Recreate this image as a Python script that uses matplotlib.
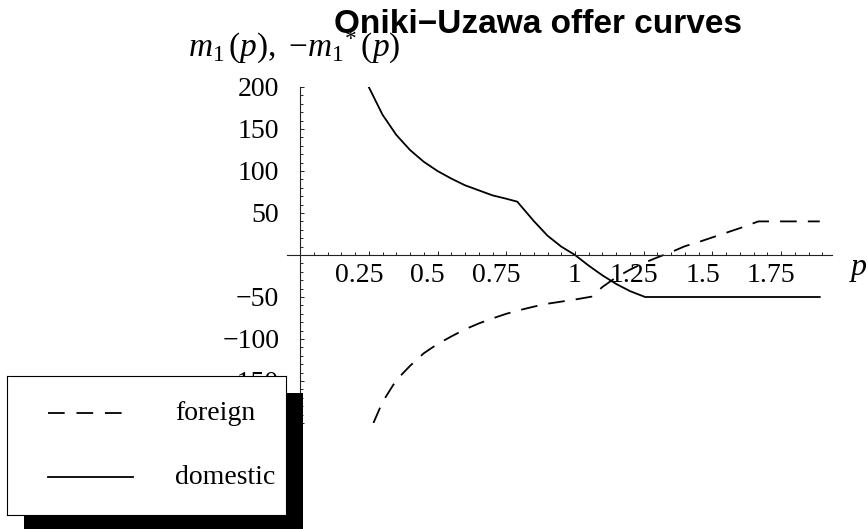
import matplotlib
matplotlib.use('Agg')
import matplotlib.pyplot as plt
import matplotlib.transforms as mtransforms
from matplotlib.patches import Rectangle

# values
p_domestic = [0.25, 0.30, 0.35, 0.40, 0.45, 0.50, 0.55, 0.60, 0.65, 0.70, 0.75, 0.79,
              0.85, 0.90, 0.95, 1.00, 1.05, 1.10, 1.15, 1.20, 1.255, 1.89]
m_domestic = [200, 167, 143, 125, 111, 100, 91, 83, 77, 71, 67, 63.5,
              40.5, 23, 10, 0, -12.7, -24.3, -34.5, -43, -50, -50]

p_foreign = [0.267, 0.30, 0.35, 0.40, 0.45, 0.50, 0.55, 0.60, 0.65, 0.70, 0.75, 0.80,
             0.85, 0.90, 0.95, 1.00, 1.06, 1.10, 1.15, 1.20, 1.25, 1.30, 1.35, 1.40,
             1.45, 1.50, 1.55, 1.60, 1.667, 1.89]
m_foreign = [-200, -175, -149, -132, -117, -106, -97, -88.5, -81.5, -75.5, -70, -65.5,
             -61.5, -58, -55.5, -53, -49.6, -38, -26.5, -17.5, -9.5, -2.8, 3.5, 10.5,
             15.5, 21, 26.5, 32, 40, 40]

x_ticks = [0.25, 0.5, 0.75, 1, 1.25, 1.5, 1.75]
x_labels = ['0.25', '0.5', '0.75', '1', '1.25', '1.5', '1.75']
y_ticks = [-200, -150, -100, -50, 50, 100, 150, 200]
y_labels = ['\u2212200', '\u2212150', '\u2212100', '\u221250', '50', '100', '150', '200']

plt.rcParams['lines.scale_dashes'] = False
plt.rcParams['mathtext.fontset'] = 'custom'
plt.rcParams['mathtext.rm'] = 'Liberation Serif'
plt.rcParams['mathtext.it'] = 'Liberation Serif:italic'

W, H = 868, 529
fig = plt.figure(figsize=(W / 100, H / 100), dpi=100)

# main axes, placed so p=0 -> x=300px, p=1 -> 575px, y=0 -> 255px
ax = fig.add_axes([287.1 / W, (H - 423) / H, 545 / W, 336 / H])
ax.patch.set_visible(False)
ax.set_xlim(-0.047, 1.935)
ax.set_ylim(-200, 200)

dash = (0, (12, 8))
ax.plot(p_foreign, m_foreign, color='black', lw=1.3, ls=dash)
ax.plot(p_domestic, m_domestic, color='black', lw=1.3)

for s in ['top', 'right']:
    ax.spines[s].set_visible(False)
ax.spines['left'].set_position(('data', 0))
ax.spines['bottom'].set_position(('data', 0))
for s in ['left', 'bottom']:
    ax.spines[s].set_linewidth(0.8)
    ax.spines[s].set_color('#222222')

ax.set_xticks(x_ticks, x_labels)
ax.set_xticks([i * 0.05 for i in range(1, 39) if i % 5 != 0], minor=True)
ax.set_yticks(y_ticks, y_labels)
ax.set_yticks([v for v in range(-190, 200, 10) if v % 50 != 0], minor=True)

ax.tick_params(which='both', direction='in', width=0.7, color='#222222')
ax.tick_params(which='major', length=3.2)
ax.tick_params(which='minor', length=2.0)
ax.tick_params(axis='x', pad=6, labelsize=20)
ax.tick_params(axis='y', pad=15, labelsize=20)
for lab in ax.get_xticklabels() + ax.get_yticklabels():
    lab.set_fontfamily('Liberation Serif')

# decimal labels sit a little left of their ticks in the original
shift = mtransforms.ScaledTranslation(-0.10, 0, fig.dpi_scale_trans)
for lab in ax.get_xticklabels():
    if '.' in lab.get_text():
        lab.set_transform(lab.get_transform() + shift)

fig.text(538 / W, 1 - 33 / H, 'Oniki\u2212Uzawa offer curves', ha='center', va='baseline',
         fontsize=24, fontweight='bold', family='Liberation Sans')
fig.text(188 / W, 1 - 57 / H, r'$m_{\mathit{1}}\,(p),\ {-}m_{\mathit{1}}{}^{*}\,(p)$',
         ha='left', va='baseline', fontsize=24)
fig.text(851 / W, 1 - 267 / H, 'p', ha='left', va='center', fontsize=23,
         family='Liberation Serif', style='italic')

# legend box with a solid black shadow
bx, by, bw, bh = 7.3, 375.7, 278.7, 139.3
fig.add_artist(Rectangle(((bx + 17) / W, (H - by - bh - 17) / H), bw / W, bh / H,
                         transform=fig.transFigure, facecolor='black',
                         edgecolor='none', zorder=5))
lax = fig.add_axes([bx / W, (H - by - bh) / H, bw / W, bh / H], zorder=6)
lax.set_xlim(0, bw)
lax.set_ylim(bh, 0)
lax.set_xticks([])
lax.set_yticks([])
for s in lax.spines.values():
    s.set_linewidth(0.8)
    s.set_color('black')
lax.plot([41, 126], [37.3, 37.3], color='black', lw=1.3, ls=(0, (12, 8.5)))
lax.plot([41, 126], [101.3, 101.3], color='black', lw=1.3)
lax.text(168, 37.3, 'foreign', va='center', ha='left', fontsize=20, family='Liberation Serif')
lax.text(168, 101.3, 'domestic', va='center', ha='left', fontsize=20, family='Liberation Serif')

fig.savefig('out.png', dpi=100)
